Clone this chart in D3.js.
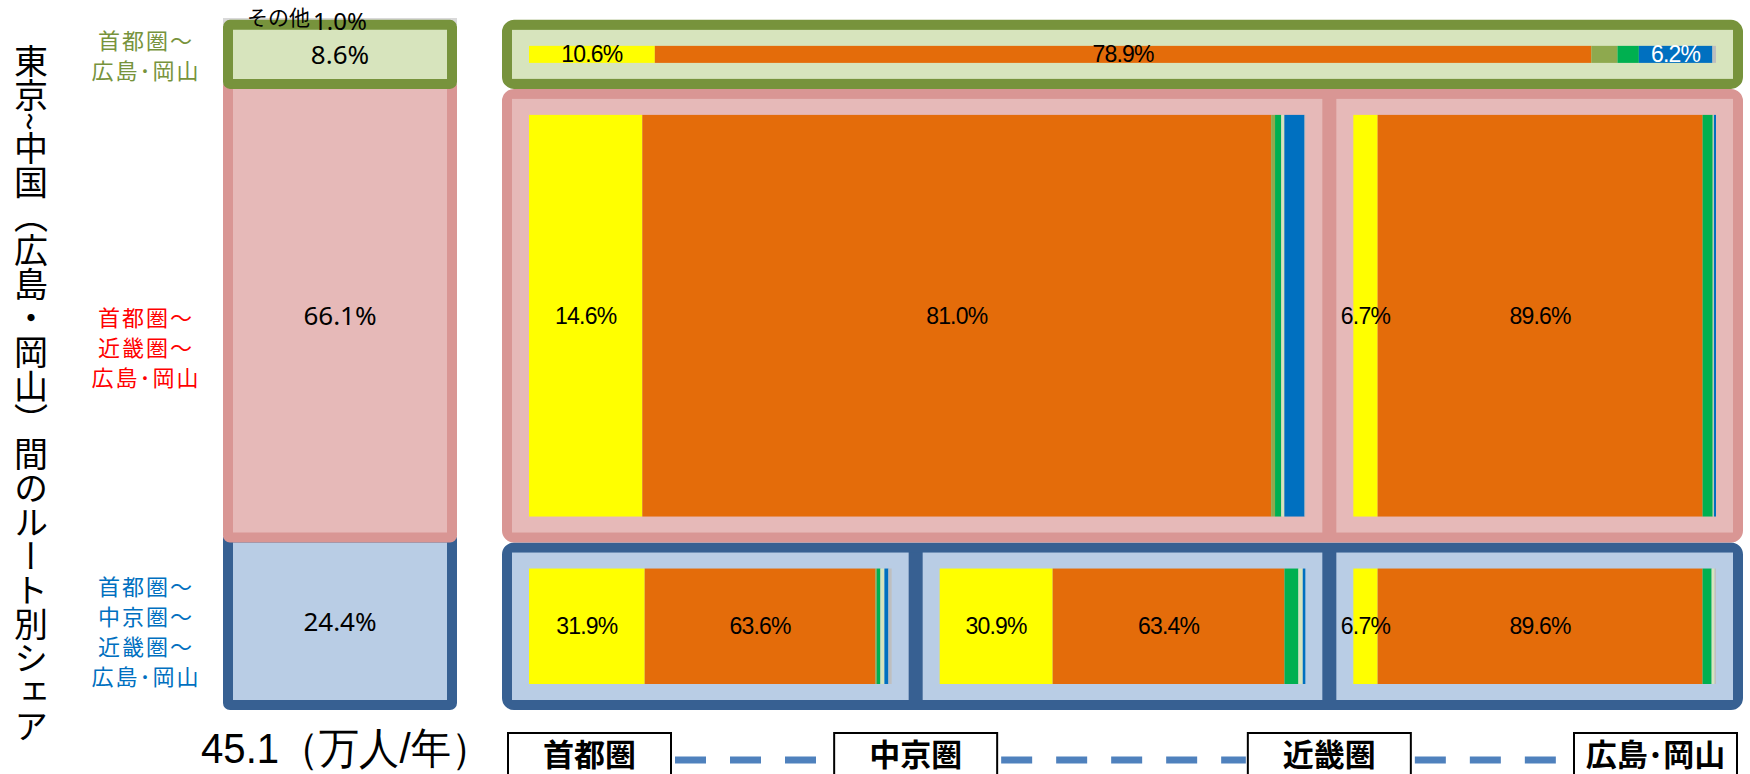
<!DOCTYPE html>
<html>
<head>
<meta charset="utf-8">
<script src="https://cdn.jsdelivr.net/npm/d3@7"></script>
<style>
  body { margin: 0; background: #ffffff; }
  svg { display: block; }
</style>
</head>
<body>
<svg id="chart" width="1750" height="774"></svg>
<script>
// ---- data ----------------------------------------------------------------
const stations = ["首都圏", "中京圏", "近畿圏", "広島･岡山"];

// routes between 東京 and 中国 (top to bottom) and their share of trips (%)
const routeLines = [
  ["首都圏～", "広島･岡山"],
  ["首都圏～", "近畿圏～", "広島･岡山"],
  ["首都圏～", "中京圏～", "近畿圏～", "広島･岡山"]
];
const routeShares = [8.6, 66.1, 24.4];
const otherLabel = "その他";
const otherShare = 1.0;
const totalVolume = "45.1（万人/年）";
const title = "東京~中国（広島・岡山）間のルート別シェア";

// legs drawn inside each route: route index, origin and destination station
const legRoute = [0, 1, 1, 2, 2, 2];
const legFrom  = ["首都圏", "首都圏", "近畿圏", "首都圏", "中京圏", "近畿圏"];
const legTo    = ["広島･岡山", "近畿圏", "広島･岡山", "中京圏", "近畿圏", "広島･岡山"];

// mode shares for each leg (%), one array per mode
const modeA = [10.6, 14.6, 6.7, 31.9, 30.9, 6.7];
const modeB = [78.9, 81.0, 89.6, 63.6, 63.4, 89.6];
const modeC = [2.2, 0.5, 0.0, 0.4, 0.0, 0.0];
const modeD = [1.8, 0.8, 2.8, 1.0, 3.8, 2.5];
const modeE = [0.0, 0.4, 0.3, 1.1, 1.2, 0.8];
const modeF = [6.2, 2.6, 0.6, 1.1, 0.7, 0.0];
const modeG = [0.3, 0.1, 0.0, 0.9, 0.0, 0.4];

// ---- styles --------------------------------------------------------------
const modeSeries = [modeA, modeB, modeC, modeD, modeE, modeF, modeG];
const modeColors = ["#FFFF00", "#E46C0A", "#8EA94E", "#00B050", "#D7E4BD", "#0070C0", "#BFBFBF"];
const rowFill   = ["#D7E4BD", "#E6B9B8", "#B9CDE5"];
const rowStroke = ["#77933C", "#D99694", "#376092"];
const rowText   = ["#77933C", "#FF0000", "#0070C0"];
const rowLabelShift = [0, 35, 9];
const otherFill = "#D9D9D9";

const jp = "'Noto Sans CJK JP','Noto Sans',sans-serif";
const latin = "'Noto Sans','DejaVu Sans',sans-serif";
const narrow = "'Liberation Sans Narrow','Liberation Sans',sans-serif";

const svg = d3.select("#chart");
const SW = 10;            // border width of the boxes
const col = { x0: 223, x1: 457 };

// ---- vertical share scale (stacked from the bottom) ----------------------
const total = d3.sum(routeShares) + otherShare;
const y = d3.scaleLinear().domain([0, total]).range([705, 18]);

const bands = [];
let base = 0;
for (let i = routeShares.length - 1; i >= 0; i--) {
  bands[i] = { lo: base, hi: base + routeShares[i] };
  base += routeShares[i];
}
const otherBand = { lo: base, hi: base + otherShare };

// ---- left stacked column -------------------------------------------------
const left = svg.append("g");
left.append("rect")
  .attr("x", col.x0).attr("width", col.x1 - col.x0)
  .attr("y", y(otherBand.hi)).attr("height", y(otherBand.lo) - y(otherBand.hi))
  .attr("fill", otherFill);

d3.range(routeShares.length).reverse().forEach(i => {
  const b = bands[i];
  left.append("rect")
    .attr("x", col.x0 + SW / 2).attr("width", col.x1 - col.x0 - SW)
    .attr("y", y(b.hi)).attr("height", y(b.lo) - y(b.hi))
    .attr("rx", 2)
    .attr("fill", rowFill[i]).attr("stroke", rowStroke[i]).attr("stroke-width", SW);
});

const colMid = (col.x0 + col.x1) / 2;
routeShares.forEach((v, i) => {
  const b = bands[i];
  left.append("text")
    .attr("x", colMid).attr("y", (y(b.lo) + y(b.hi)) / 2 + (i === 1 ? 4 : 0))
    .attr("text-anchor", "middle").attr("dominant-baseline", "central")
    .attr("font-family", latin).attr("font-size", 26).attr("fill", "#000")
    .text(v.toFixed(1) + "%");
});

const otherY = (y(otherBand.lo) + y(otherBand.hi)) / 2;
const otherVal = left.append("text")
  .attr("x", colMid).attr("y", otherY - 1)
  .attr("text-anchor", "middle").attr("dominant-baseline", "central")
  .attr("font-family", latin).attr("font-size", 24).attr("fill", "#000")
  .text(otherShare.toFixed(1) + "%");
const ow = otherVal.node().getComputedTextLength();
left.append("text")
  .attr("x", colMid - ow / 2 - 3).attr("y", otherY - 5)
  .attr("text-anchor", "end").attr("dominant-baseline", "central")
  .attr("font-family", jp).attr("font-size", 21).attr("fill", "#000")
  .text(otherLabel);

// ---- route labels --------------------------------------------------------
routeLines.forEach((lines, i) => {
  const b = bands[i];
  const mid = (y(b.lo) + y(b.hi)) / 2 + rowLabelShift[i];
  const lh = 30;
  const t = svg.append("text")
    .attr("text-anchor", "middle")
    .attr("font-family", jp).attr("font-size", 22).attr("fill", rowText[i])
    .attr("letter-spacing", 2);
  lines.forEach((ln, k) => {
    t.append("tspan")
      .attr("x", 146)
      .attr("y", mid + (k - (lines.length - 1) / 2) * lh)
      .attr("dominant-baseline", "central")
      .text(ln);
  });
});

// ---- vertical title ------------------------------------------------------
svg.append("text")
  .attr("x", 31).attr("y", 44)
  .style("writing-mode", "vertical-rl")
  .attr("font-family", jp).attr("font-size", 34).attr("fill", "#000")
  .text(title);

// ---- route boxes with leg bars ------------------------------------------
const xs = d3.scalePoint().domain(stations).range([502, 1743]);
const gapHalf = 7;
const first = stations[0], last = stations[stations.length - 1];

const boxes = [];
routeShares.forEach((v, i) => {
  const b = bands[i];
  const top = i === 0 ? y(b.hi) - SW / 2 : y(b.hi) + SW / 2;
  const bottom = y(b.lo) + SW / 2;
  boxes[i] = { top, bottom };
});

d3.range(routeShares.length).reverse().forEach(i => {
  const bx = boxes[i];
  const g = svg.append("g");
  g.append("rect")
    .attr("x", xs(first) + SW / 2).attr("width", xs(last) - xs(first) - SW)
    .attr("y", bx.top + SW / 2).attr("height", bx.bottom - bx.top - SW)
    .attr("rx", 7)
    .attr("fill", rowStroke[i]).attr("stroke", rowStroke[i]).attr("stroke-width", SW);

  legRoute.forEach((r, L) => {
    if (r !== i) return;
    const ix0 = legFrom[L] === first ? xs(first) + SW : xs(legFrom[L]) + gapHalf;
    const ix1 = legTo[L] === last ? xs(last) - SW : xs(legTo[L]) - gapHalf;
    const iy0 = bx.top + SW, iy1 = bx.bottom - SW;
    g.append("rect")
      .attr("x", ix0).attr("width", ix1 - ix0)
      .attr("y", iy0).attr("height", iy1 - iy0)
      .attr("fill", rowFill[i]);

    const bxs = d3.scaleLinear().domain([0, 100]).range([ix0 + 17, ix1 - 17]);
    const by0 = iy0 + 16, by1 = iy1 - 16;
    let acc = 0;
    const segs = modeSeries.map((s, m) => {
      const seg = { m, v: s[L], a: acc, b: acc + s[L] };
      acc += s[L];
      return seg;
    });
    g.selectAll(null).data(segs.filter(d => d.v > 0)).join("rect")
      .attr("x", d => bxs(d.a)).attr("width", d => bxs(d.b) - bxs(d.a))
      .attr("y", by0).attr("height", by1 - by0)
      .attr("fill", d => modeColors[d.m]);
    g.selectAll(null).data(segs.filter(d => d.v >= 5)).join("text")
      .attr("x", d => (bxs(d.a) + bxs(d.b)) / 2)
      .attr("y", (by0 + by1) / 2)
      .attr("text-anchor", "middle").attr("dominant-baseline", "central")
      .attr("font-family", narrow).attr("font-size", 23)
      .attr("letter-spacing", -0.8)
      .attr("fill", d => d3.hsl(modeColors[d.m]).l < 0.42 ? "#ffffff" : "#000000")
      .text(d => d.v.toFixed(1) + "%");
  });
});

// ---- station axis --------------------------------------------------------
const lblW = 163, lblTop = 733;
const lblX = s => Math.max(xs(first) + lblW / 2 + 6, Math.min(xs(last) - lblW / 2 - 6, xs(s)));

const axis = svg.append("g");
stations.slice(0, -1).forEach((s, k) => {
  const a = lblX(s) + lblW / 2 + 4;
  const b = lblX(stations[k + 1]) - lblW / 2 - 2;
  axis.append("line")
    .attr("x1", a).attr("x2", b).attr("y1", 760).attr("y2", 760)
    .attr("stroke", "#4F81BD").attr("stroke-width", 7)
    .attr("stroke-dasharray", "31,24");
});
stations.forEach(s => {
  axis.append("rect")
    .attr("x", lblX(s) - lblW / 2).attr("y", lblTop)
    .attr("width", lblW).attr("height", 60)
    .attr("fill", "#ffffff").attr("stroke", "#000").attr("stroke-width", 2);
  axis.append("text")
    .attr("x", lblX(s)).attr("y", 752)
    .attr("text-anchor", "middle").attr("dominant-baseline", "central")
    .attr("font-family", jp).attr("font-weight", 700).attr("font-size", 31)
    .attr("fill", "#000")
    .text(s);
});

svg.append("text")
  .attr("x", 201).attr("y", 763)
  .attr("font-family", narrow).attr("font-size", 43).attr("fill", "#000")
  .attr("textLength", 290).attr("lengthAdjust", "spacingAndGlyphs")
  .text(totalVolume);
</script>
</body>
</html>
